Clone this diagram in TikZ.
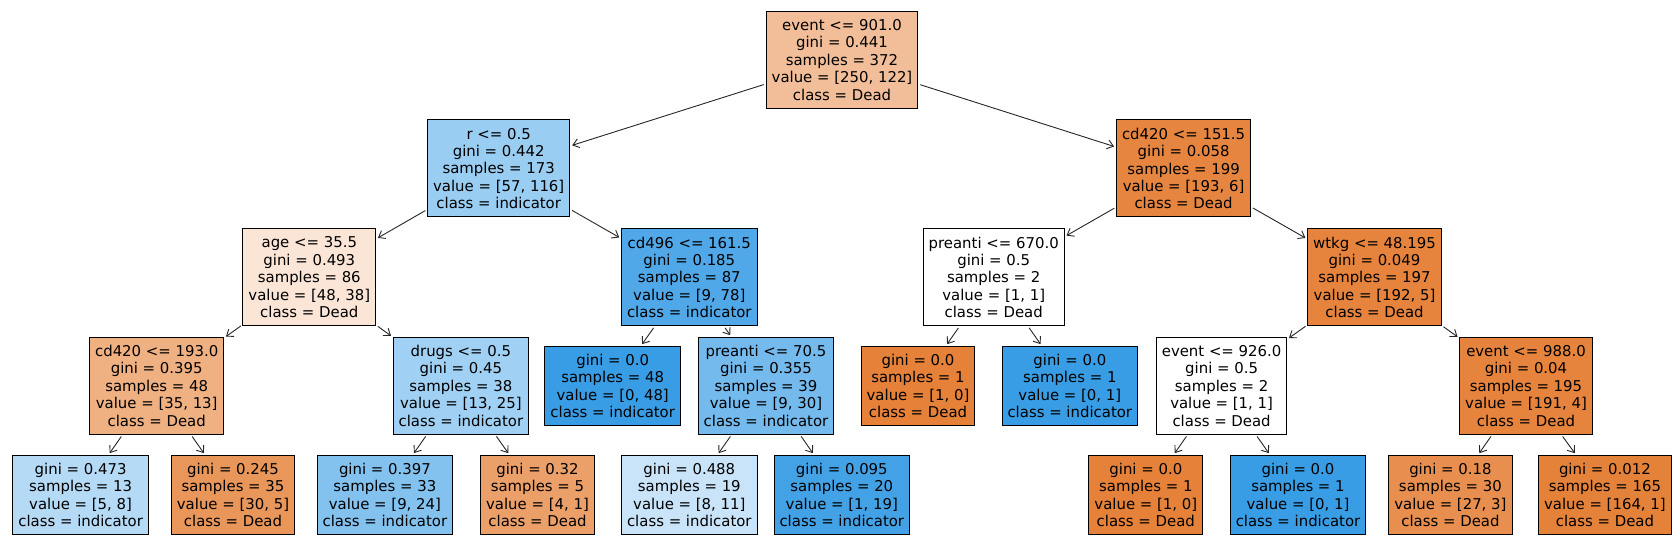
\documentclass[tikz,border=0pt]{standalone}
\usepackage{fontspec}
\setmainfont{DejaVu Sans}
\usetikzlibrary{arrows.meta}
\definecolor{c0}{RGB}{242,190,154}
\definecolor{c1}{RGB}{154,205,242}
\definecolor{c2}{RGB}{230,133,63}
\definecolor{c3}{RGB}{250,229,214}
\definecolor{c4}{RGB}{80,168,232}
\definecolor{c6}{RGB}{230,132,62}
\definecolor{c7}{RGB}{239,176,130}
\definecolor{c8}{RGB}{160,208,243}
\definecolor{cB}{RGB}{57,157,229}
\definecolor{cO}{RGB}{229,129,57}
\definecolor{c10}{RGB}{116,186,237}
\definecolor{c14}{RGB}{230,132,61}
\definecolor{l1}{RGB}{181,218,245}
\definecolor{l2}{RGB}{233,150,90}
\definecolor{l3}{RGB}{131,194,239}
\definecolor{l4}{RGB}{235,160,106}
\definecolor{l5}{RGB}{201,228,248}
\definecolor{l6}{RGB}{67,162,230}
\definecolor{l9}{RGB}{232,143,79}
\definecolor{l10}{RGB}{229,130,58}
\tikzset{
  tnode/.style={draw=black, line width=1pt, align=center, inner xsep=5.5pt, inner ysep=0pt,
    font=\fontsize{14.9}{17.4}\selectfont, text=black},
  split/.style={tnode, minimum height=97pt},
  leaf/.style={tnode, minimum height=79pt},
  edge/.style={line width=0.9pt, draw=black!85, -{Straight Barb[length=6pt,width=9pt,line width=0.9pt]},
    shorten >=2pt, shorten <=2pt}
}
\begin{document}
\begin{tikzpicture}[x=1pt,y=-1pt]
\useasboundingbox (0,0) rectangle (1680,553);
\def\yA{59.8}\def\yB{168.5}\def\yC{277.3}\def\yD{385.8}\def\yE{494.8}
\node[split, fill=c0] (n0) at (842,\yA) {event <= 901.0\\gini = 0.441\\samples = 372\\value = [250, 122]\\class = Dead};
\node[split, fill=c1] (n1) at (498.7,\yB) {r <= 0.5\\gini = 0.442\\samples = 173\\value = [57, 116]\\class = indicator};
\node[split, fill=c2] (n2) at (1183.6,\yB) {cd420 <= 151.5\\gini = 0.058\\samples = 199\\value = [193, 6]\\class = Dead};
\node[split, fill=c3] (n3) at (309.3,\yC) {age <= 35.5\\gini = 0.493\\samples = 86\\value = [48, 38]\\class = Dead};
\node[split, fill=c4] (n4) at (689.3,\yC) {cd496 <= 161.5\\gini = 0.185\\samples = 87\\value = [9, 78]\\class = indicator};
\node[split, fill=white] (n5) at (993.7,\yC) {preanti <= 670.0\\gini = 0.5\\samples = 2\\value = [1, 1]\\class = Dead};
\node[split, fill=c6] (n6) at (1374.5,\yC) {wtkg <= 48.195\\gini = 0.049\\samples = 197\\value = [192, 5]\\class = Dead};
\node[split, fill=c7] (n7) at (156.7,\yD) {cd420 <= 193.0\\gini = 0.395\\samples = 48\\value = [35, 13]\\class = Dead};
\node[split, fill=c8] (n8) at (460.9,\yD) {drugs <= 0.5\\gini = 0.45\\samples = 38\\value = [13, 25]\\class = indicator};
\node[leaf, fill=cB] (n9) at (612.7,\yD) {gini = 0.0\\samples = 48\\value = [0, 48]\\class = indicator};
\node[split, fill=c10] (n10) at (766,\yD) {preanti <= 70.5\\gini = 0.355\\samples = 39\\value = [9, 30]\\class = indicator};
\node[leaf, fill=cO] (n11) at (918,\yD) {gini = 0.0\\samples = 1\\value = [1, 0]\\class = Dead};
\node[leaf, fill=cB] (n12) at (1069.8,\yD) {gini = 0.0\\samples = 1\\value = [0, 1]\\class = indicator};
\node[split, fill=white] (n13) at (1221.6,\yD) {event <= 926.0\\gini = 0.5\\samples = 2\\value = [1, 1]\\class = Dead};
\node[split, fill=c14] (n14) at (1526,\yD) {event <= 988.0\\gini = 0.04\\samples = 195\\value = [191, 4]\\class = Dead};
\node[leaf, fill=l1] (m1) at (80.6,\yE) {gini = 0.473\\samples = 13\\value = [5, 8]\\class = indicator};
\node[leaf, fill=l2] (m2) at (233,\yE) {gini = 0.245\\samples = 35\\value = [30, 5]\\class = Dead};
\node[leaf, fill=l3] (m3) at (384.9,\yE) {gini = 0.397\\samples = 33\\value = [9, 24]\\class = indicator};
\node[leaf, fill=l4] (m4) at (537.5,\yE) {gini = 0.32\\samples = 5\\value = [4, 1]\\class = Dead};
\node[leaf, fill=l5] (m5) at (689.3,\yE) {gini = 0.488\\samples = 19\\value = [8, 11]\\class = indicator};
\node[leaf, fill=l6] (m6) at (841.8,\yE) {gini = 0.095\\samples = 20\\value = [1, 19]\\class = indicator};
\node[leaf, fill=cO] (m7) at (1145.8,\yE) {gini = 0.0\\samples = 1\\value = [1, 0]\\class = Dead};
\node[leaf, fill=cB] (m8) at (1298,\yE) {gini = 0.0\\samples = 1\\value = [0, 1]\\class = indicator};
\node[leaf, fill=l9] (m9) at (1450.4,\yE) {gini = 0.18\\samples = 30\\value = [27, 3]\\class = Dead};
\node[leaf, fill=l10] (m10) at (1604.9,\yE) {gini = 0.012\\samples = 165\\value = [164, 1]\\class = Dead};
\draw[edge] (n0) -- (n1);
\draw[edge] (n0) -- (n2);
\draw[edge] (n1) -- (n3);
\draw[edge] (n1) -- (n4);
\draw[edge] (n2) -- (n5);
\draw[edge] (n2) -- (n6);
\draw[edge] (n3) -- (n7);
\draw[edge] (n3) -- (n8);
\draw[edge] (n4) -- (n9);
\draw[edge] (n4) -- (n10);
\draw[edge] (n5) -- (n11);
\draw[edge] (n5) -- (n12);
\draw[edge] (n6) -- (n13);
\draw[edge] (n6) -- (n14);
\draw[edge] (n7) -- (m1);
\draw[edge] (n7) -- (m2);
\draw[edge] (n8) -- (m3);
\draw[edge] (n8) -- (m4);
\draw[edge] (n10) -- (m5);
\draw[edge] (n10) -- (m6);
\draw[edge] (n13) -- (m7);
\draw[edge] (n13) -- (m8);
\draw[edge] (n14) -- (m9);
\draw[edge] (n14) -- (m10);
\end{tikzpicture}
\end{document}
